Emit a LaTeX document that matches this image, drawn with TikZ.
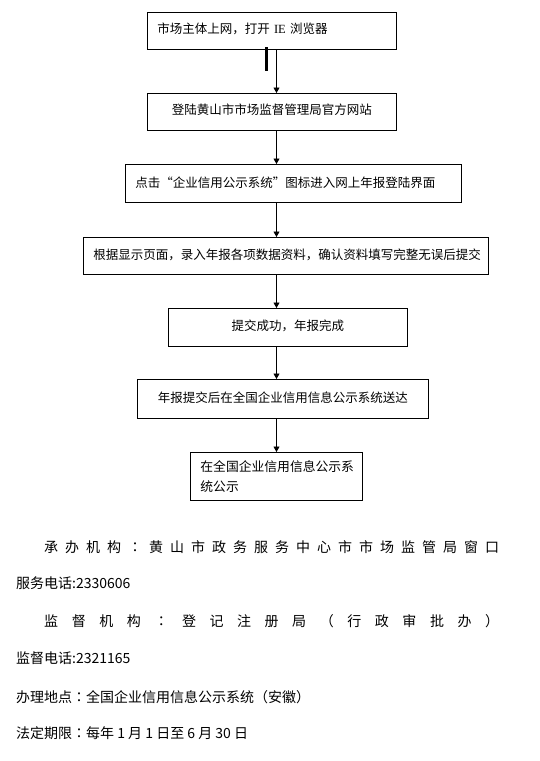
\documentclass[tikz,border=0pt]{standalone}
\usepackage{fontspec}
\setmainfont{Noto Sans CJK SC}
\newfontfamily\ieserif{Liberation Serif}
\newfontfamily\jpfont{Noto Sans CJK JP}
\newcommand{\midcolon}{{\jpfont ：}}
\usetikzlibrary{arrows.meta}
\tikzset{
  flowbox/.style={draw, line width=0.8pt, anchor=north west, inner xsep=10pt, inner ysep=0pt,
    font=\fontsize{12.5}{15}\selectfont},
  flowarr/.style={draw, line width=0.8pt, -{Triangle[width=6pt,length=5.5pt]}},
  bottomtext/.style={anchor=west, inner sep=0pt, font=\fontsize{14}{16}\selectfont},
}
\begin{document}
\begin{tikzpicture}[x=1pt,y=-1pt]
\useasboundingbox[fill=white] (0,0) rectangle (539,761);
\coordinate (ax) at (276.5,0);
% boxes
\node[flowbox, minimum width=249pt, minimum height=36.5pt, text width=229pt, align=left] (b1) at (147,12)
  {\raisebox{5pt}{市场主体上网，打开 {\ieserif IE} 浏览器}};
\node[flowbox, minimum width=249pt, minimum height=36.5pt, text width=229pt, align=center] (b2) at (147,93)
  {\raisebox{4pt}{登陆黄山市市场监督管理局官方网站}};
\node[flowbox, minimum width=336pt, minimum height=38pt, text width=316pt, align=left] (b3) at (125,164)
  {\raisebox{3pt}{点击“企业信用公示系统”图标进入网上年报登陆界面}};
\node[flowbox, minimum width=405pt, minimum height=37pt, text width=385pt, align=left] (b4) at (83,237)
  {\raisebox{3pt}{根据显示页面，录入年报各项数据资料，确认资料填写完整无误后提交}};
\node[flowbox, minimum width=239pt, minimum height=38pt, text width=219pt, align=center] (b5) at (168,308)
  {\raisebox{4pt}{提交成功，年报完成}};
\node[flowbox, minimum width=291pt, minimum height=39pt, text width=271pt, align=center] (b6) at (137,379)
  {\raisebox{3pt}{年报提交后在全国企业信用信息公示系统送达}};
\node[flowbox, minimum width=172pt, minimum height=48pt, text width=152pt, align=left,
  font=\fontsize{12.8}{20}\selectfont] (b7) at (190,452)
  {在全国企业信用信息公示系\\统公示};
% arrows
\draw[flowarr] (b1.south -| ax) -- (b2.north -| ax);
\draw[flowarr] (b2.south -| ax) -- (b3.north -| ax);
\draw[flowarr] (b3.south -| ax) -- (b4.north -| ax);
\draw[flowarr] (b4.south -| ax) -- (b5.north -| ax);
\draw[flowarr] (b5.south -| ax) -- (b6.north -| ax);
\draw[flowarr] (b6.south -| ax) -- (b7.north -| ax);
% stray mark
\coordinate (s1) at (266.5,47);
\coordinate (s2) at (266.5,71);
\draw[line width=2.5pt] (s1) -- (s2);
% bottom text
\node[bottomtext] (t1) at (44,547) {\hbox to 455pt{承\hfill 办\hfill 机\hfill 构\hfill \midcolon\hfill 黄\hfill 山\hfill 市\hfill 政\hfill 务\hfill 服\hfill 务\hfill 中\hfill 心\hfill 市\hfill 市\hfill 场\hfill 监\hfill 管\hfill 局\hfill 窗\hfill 口}};
\node[bottomtext] (t2) at (16,583) {服务电话:2330606};
\node[bottomtext] (t3) at (44,621) {\hbox to 455pt{监\hfill 督\hfill 机\hfill 构\hfill \midcolon\hfill 登\hfill 记\hfill 注\hfill 册\hfill 局\hfill （\hfill 行\hfill 政\hfill 审\hfill 批\hfill 办\hfill ）}};
\node[bottomtext] (t4) at (16,658) {监督电话:2321165};
\node[bottomtext] (t5) at (16,697) {办理地点\midcolon 全国企业信用信息公示系统（安徽）};
\node[bottomtext] (t6) at (16,733) {法定期限\midcolon 每年 1 月 1 日至 6 月 30 日};
\end{tikzpicture}
\end{document}
